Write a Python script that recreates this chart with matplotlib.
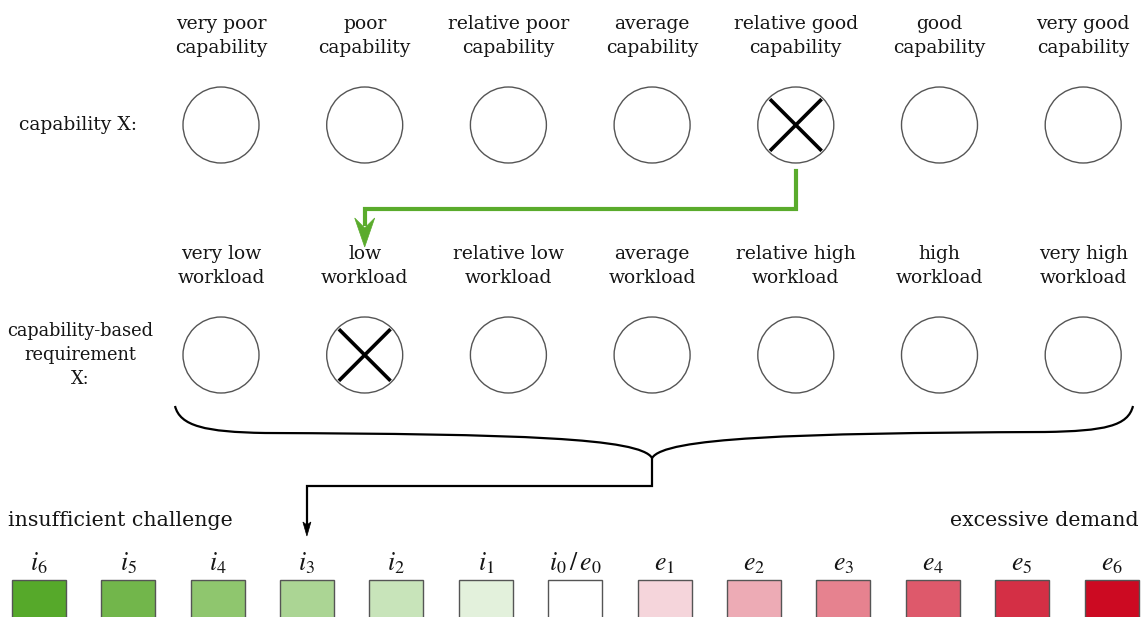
import numpy as np
import matplotlib
matplotlib.use("Agg")
import matplotlib.pyplot as plt
from matplotlib.patches import Circle, Rectangle, Polygon, PathPatch
from matplotlib.path import Path

# ── content ──────────────────────────────────────────────────────────────────
CAP_LABELS = ["very poor\ncapability", "poor\ncapability", "relative poor\ncapability",
              "average\ncapability", "relative good\ncapability", "good\ncapability",
              "very good\ncapability"]
WORK_LABELS = ["very low\nworkload", "low\nworkload", "relative low\nworkload",
               "average\nworkload", "relative high\nworkload", "high\nworkload",
               "very high\nworkload"]
CAP_SELECTED = 4
WORK_SELECTED = 1

SCALE_LABELS = [r"$i_6$", r"$i_5$", r"$i_4$", r"$i_3$", r"$i_2$", r"$i_1$", r"$i_0\,/\,e_0$",
                r"$e_1$", r"$e_2$", r"$e_3$", r"$e_4$", r"$e_5$", r"$e_6$"]
SCALE_COLORS = ["#56A92A", "#72B64B", "#8FC66E", "#ABD594", "#C8E4BA", "#E3F1DC", "#FFFFFF",
                "#F5D5DB", "#EDABB5", "#E6828F", "#DE596B", "#D42F45", "#CC0A22"]
SCALE_SELECTED = 3

# ── layout (pixel space, y downwards) ────────────────────────────────────────
W, H = 1146, 617
CIRC_X0, CIRC_DX, CIRC_R = 221, 143.7, 38
ROW1_Y, ROW2_Y = 125, 355
SQ_X0, SQ_DX, SQ_W, SQ_TOP = 38.7, 89.4, 54, 580
GREEN = "#5AAB2C"
INK = "#151515"
SERIF = "DejaVu Serif"
plt.rcParams["mathtext.fontset"] = "stix"

fig = plt.figure(figsize=(W / 100, H / 100), dpi=100)
ax = fig.add_axes([0, 0, 1, 1])
ax.set_xlim(0, W)
ax.set_ylim(H, 0)
ax.axis("off")

circ_x = CIRC_X0 + CIRC_DX * np.arange(len(CAP_LABELS))


def draw_row(labels, y, selected):
    for i, (x, lab) in enumerate(zip(circ_x, labels)):
        ax.text(x, y - 89, lab, ha="center", va="center", fontsize=13.5,
                family=SERIF, color=INK, linespacing=1.38)
        ax.add_patch(Circle((x, y), CIRC_R, fill=False, ec="#555555", lw=1.0))
        if i == selected:
            d = CIRC_R * 0.68
            ax.plot([x - d, x + d], [y - d, y + d], color="black", lw=2.6, solid_capstyle="butt")
            ax.plot([x - d, x + d], [y + d, y - d], color="black", lw=2.6, solid_capstyle="butt")


draw_row(CAP_LABELS, ROW1_Y, CAP_SELECTED)
draw_row(WORK_LABELS, ROW2_Y, WORK_SELECTED)

ax.text(78, ROW1_Y, "capability X:", ha="center", va="center", fontsize=13.5,
        family=SERIF, color=INK)
ax.text(80, ROW2_Y, "capability-based\nrequirement\nX:", ha="center", va="center",
        fontsize=12.8, family=SERIF, color=INK, linespacing=1.45)

# ── green arrow: chosen capability -> chosen requirement ─────────────────────
gx0, gx1 = circ_x[CAP_SELECTED], circ_x[WORK_SELECTED]
gy = 209
ax.plot([gx0, gx0, gx1, gx1], [ROW1_Y + CIRC_R + 8, gy, gy, 224],
        color=GREEN, lw=3, solid_joinstyle="miter")
ax.add_patch(Polygon([(gx1, 247), (gx1 - 10, 218), (gx1, 228), (gx1 + 10, 218)],
                     closed=True, fc=GREEN, ec=GREEN, lw=0.5))

# ── curly brace under the second row ─────────────────────────────────────────
bl, br, btip, by = 175, 1133, circ_x[3], 458
verts = [(bl, 406), (180, 426), (205, 432), (265, 433),
         (520, 434), (640, 438), (btip, by),
         (664, 438), (790, 433), (1045, 432),
         (1105, 431), (1128, 426), (br, 406)]
codes = [Path.MOVETO] + [Path.CURVE4] * 12
ax.add_patch(PathPatch(Path(verts, codes), fill=False, ec="black", lw=1.6))

# ── black connector: brace -> result on the scale ────────────────────────────
sq_x = SQ_X0 + SQ_DX * np.arange(len(SCALE_LABELS))
tx = sq_x[SCALE_SELECTED]
ax.plot([btip, btip, tx, tx], [by, 486, 486, 526], color="black", lw=1.6,
        solid_joinstyle="miter")
ax.add_patch(Polygon([(tx, 536), (tx - 4, 522), (tx, 525), (tx + 4, 522)],
                     closed=True, fc="black", ec="black", lw=0.5))

# ── demand scale ─────────────────────────────────────────────────────────────
ax.text(8, 520, "insufficient challenge", ha="left", va="center", fontsize=14.8,
        family=SERIF, color=INK)
ax.text(1139, 520, "excessive demand", ha="right", va="center", fontsize=14.8,
        family=SERIF, color=INK)
for x, lab, col in zip(sq_x, SCALE_LABELS, SCALE_COLORS):
    ax.text(x, 563, lab, ha="center", va="center", fontsize=18.5, color=INK)
    ax.add_patch(Rectangle((x - SQ_W / 2, SQ_TOP), SQ_W, 45, fc=col, ec="#555555", lw=1.0))

fig.savefig("out.png", dpi=100, facecolor="white")
